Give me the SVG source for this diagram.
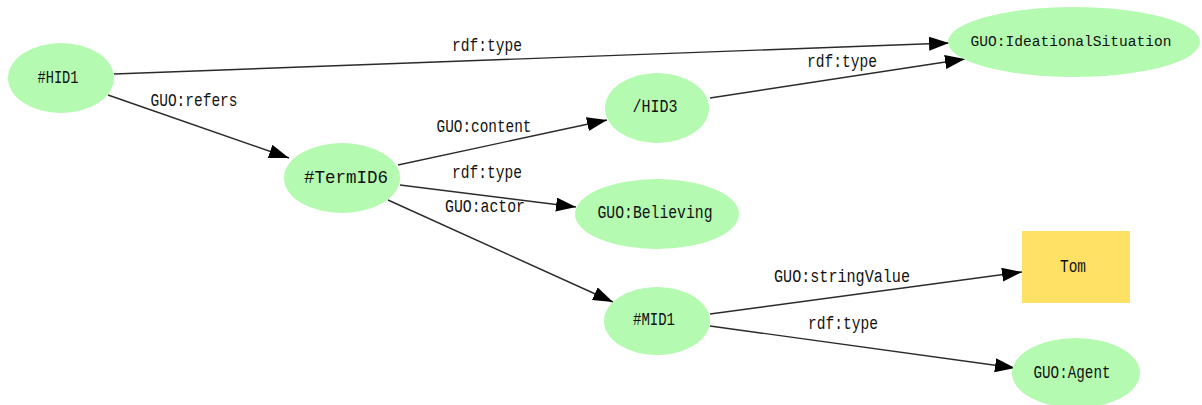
<svg xmlns="http://www.w3.org/2000/svg" width="1202" height="405" viewBox="0 0 1202 405">
  <style>
    .res { fill: #b4fab0; stroke: none; }
    .lit { fill: #ffe166; stroke: none; }
    text { font-family: "Liberation Mono", "DejaVu Sans Mono", monospace; font-size: 17.5px; fill: #111; text-anchor: middle; dominant-baseline: central; }
    text.long { font-size: 15.5px; }
    .edge { stroke: #2a2a2a; stroke-width: 1.4; fill: none; marker-end: url(#arrow); }
  </style>
  <defs>
    <marker id="arrow" markerUnits="userSpaceOnUse" markerWidth="22" markerHeight="16" refX="20" refY="7" orient="auto">
      <path d="M0,0 L20,7 L0,14 z" fill="#000"/>
    </marker>
  </defs>
  <rect width="1202" height="405" fill="#fff"/>

  <!-- connectors -->
  <g id="edges">
    <line class="edge" x1="114" y1="74" x2="949" y2="43"/>
    <line class="edge" x1="108" y1="95" x2="289" y2="158"/>
    <line class="edge" x1="398" y1="165" x2="607" y2="120"/>
    <line class="edge" x1="400" y1="185" x2="576" y2="207"/>
    <line class="edge" x1="388" y1="200" x2="613" y2="302"/>
    <line class="edge" x1="710" y1="98" x2="965" y2="59"/>
    <line class="edge" x1="710" y1="314" x2="1022" y2="272"/>
    <line class="edge" x1="710" y1="326" x2="1015" y2="368"/>
  </g>

  <!-- edge labels -->
  <g id="edge-labels">
    <text x="487" y="46" textLength="70" lengthAdjust="spacingAndGlyphs">rdf:type</text>
    <text x="194" y="101" textLength="87" lengthAdjust="spacingAndGlyphs">GUO:refers</text>
    <text x="484" y="127" textLength="95" lengthAdjust="spacingAndGlyphs">GUO:content</text>
    <text x="487" y="173" textLength="70" lengthAdjust="spacingAndGlyphs">rdf:type</text>
    <text x="485" y="207" textLength="80" lengthAdjust="spacingAndGlyphs">GUO:actor</text>
    <text x="842" y="62" textLength="70" lengthAdjust="spacingAndGlyphs">rdf:type</text>
    <text x="842" y="277" textLength="136" lengthAdjust="spacingAndGlyphs">GUO:stringValue</text>
    <text x="843" y="324" textLength="70" lengthAdjust="spacingAndGlyphs">rdf:type</text>
  </g>

  <!-- nodes -->
  <g id="node-HID1">
    <ellipse class="res" cx="61" cy="78" rx="53" ry="35"/>
    <text x="58" y="78" textLength="41" lengthAdjust="spacingAndGlyphs">#HID1</text>
  </g>
  <g id="node-IdeationalSituation">
    <ellipse class="res" cx="1074" cy="42" rx="126" ry="35"/>
    <text class="long" x="1071" y="42" textLength="201" lengthAdjust="spacingAndGlyphs">GUO:IdeationalSituation</text>
  </g>
  <g id="node-TermID6">
    <ellipse class="res" cx="342" cy="178" rx="58" ry="35"/>
    <text x="346" y="178" textLength="84" lengthAdjust="spacingAndGlyphs">#TermID6</text>
  </g>
  <g id="node-HID3">
    <ellipse class="res" cx="657" cy="108" rx="52" ry="35"/>
    <text x="655" y="107" textLength="45" lengthAdjust="spacingAndGlyphs">/HID3</text>
  </g>
  <g id="node-Believing">
    <ellipse class="res" cx="657" cy="214" rx="82" ry="35"/>
    <text x="655" y="213" textLength="115" lengthAdjust="spacingAndGlyphs">GUO:Believing</text>
  </g>
  <g id="node-MID1">
    <ellipse class="res" cx="657" cy="321" rx="53" ry="34"/>
    <text x="654" y="320" textLength="42" lengthAdjust="spacingAndGlyphs">#MID1</text>
  </g>
  <g id="node-Tom">
    <rect class="lit" x="1022" y="231" width="108" height="72"/>
    <text x="1073" y="267" textLength="26" lengthAdjust="spacingAndGlyphs">Tom</text>
  </g>
  <g id="node-Agent">
    <ellipse class="res" cx="1076" cy="373" rx="64" ry="35"/>
    <text x="1072" y="373" textLength="77" lengthAdjust="spacingAndGlyphs">GUO:Agent</text>
  </g>
</svg>
